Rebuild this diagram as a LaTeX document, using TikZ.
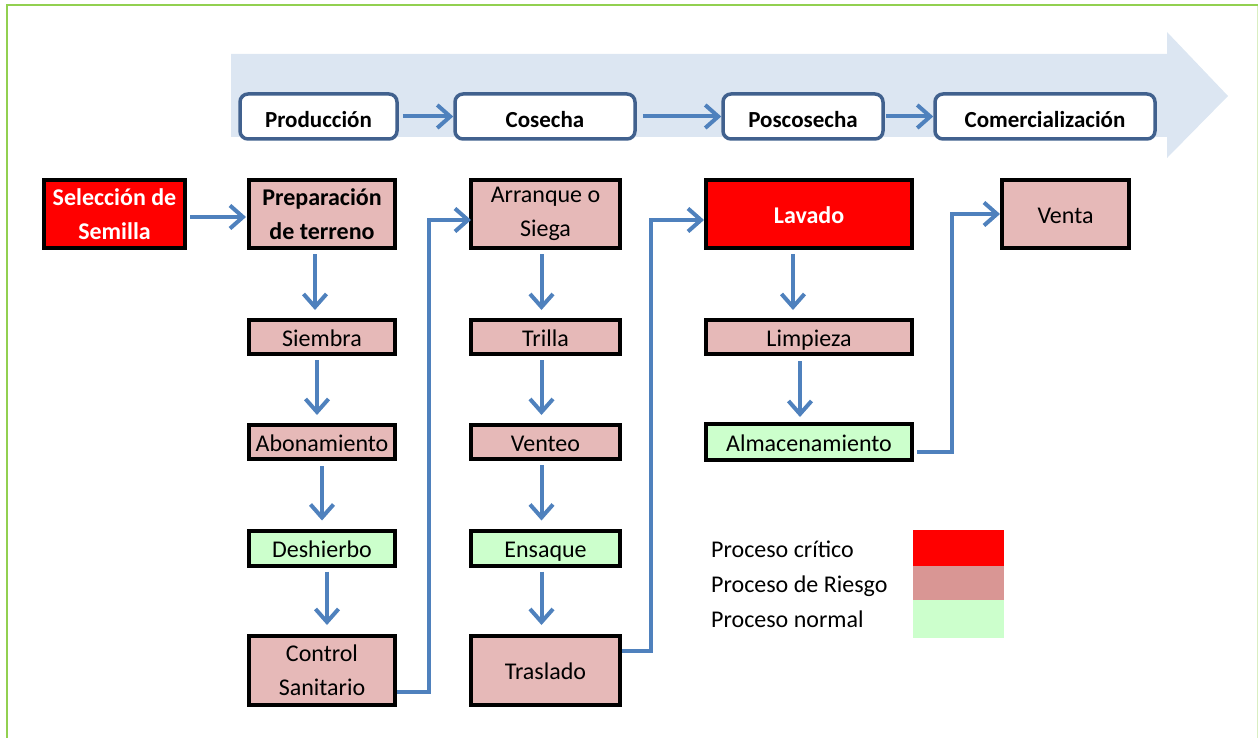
\documentclass[tikz,border=0pt]{standalone}
\usepackage{fontspec}
\setmainfont{Carlito}
\usetikzlibrary{arrows.meta,calc}
\definecolor{critc}{HTML}{FF0000}
\definecolor{riskc}{HTML}{E6B9B8}
\definecolor{riskl}{HTML}{D99694}
\definecolor{normc}{HTML}{CCFFCC}
\definecolor{bandc}{HTML}{DCE6F2}
\definecolor{phasec}{HTML}{41618E}
\definecolor{connc}{HTML}{4F81BD}
\definecolor{framec}{HTML}{92D050}
\begin{document}
\begin{tikzpicture}[x=1pt,y=-1pt,
  font=\fontsize{24}{34}\selectfont,
  procbox/.style={draw=black,line width=4pt,inner sep=0pt,align=center,text=black,fill=riskc},
  crit/.style={procbox,fill=critc,text=white,font=\fontsize{24}{34}\selectfont\bfseries},
  norm/.style={procbox,fill=normc},
  one/.style={text height=18pt,text depth=0pt},
  phasebox/.style={draw=phasec,line width=3.5pt,rounded corners=8pt,fill=white,inner sep=0pt,
    minimum height=45pt,text height=23pt,text depth=0pt,font=\fontsize{23}{30}\selectfont\bfseries},
  conn/.style={draw=connc,line width=4pt,-{Straight Barb[length=13pt,width=23pt]}},
  legtext/.style={anchor=base west,inner sep=0pt},
  c1/.style={minimum width=146pt},
  c2/.style={minimum width=149pt},
  c3/.style={minimum width=206pt},
  tall/.style={minimum height=68pt},
  short/.style={minimum height=34pt}]
\useasboundingbox (0,0) rectangle (1258,738);
\clip (0,0) rectangle (1258,738);
% frame
\draw[framec!35,line width=2pt] (1257.5,5) -- (1257.5,745);
\draw[framec,line width=2pt] (6.5,745) -- (6.5,5) -- (1257.5,5);
% band arrow
\fill[bandc] (231,54) -- (1167,54) -- (1167,32) -- (1228,96) -- (1167,158) -- (1167,137) -- (231,137) -- cycle;
% phases
\node[phasebox,minimum width=157pt] (prod) at (318.5,116.5) {Producción};
\node[phasebox,minimum width=180pt] (cos) at (545,116.5) {Cosecha};
\node[phasebox,minimum width=160pt] (pos) at (803,116.5) {Poscosecha};
\node[phasebox,minimum width=220pt] (com) at (1045,116.5) {Comercialización};
\draw[conn,shorten <=4pt] (prod) -- (cos);
\draw[conn,shorten <=6pt] (cos) -- (pos);
\draw[conn,shorten <=1pt] (pos) -- (com);
% column 0
\node[crit,tall,minimum width=141pt] (sel) at (114.5,214) {Selección de\\Semilla};
% column 1
\node[procbox,c1,tall,font=\fontsize{24}{34}\selectfont\bfseries] (prep) at (322,214) {Preparación\\de terreno};
\node[procbox,c1,short,one] (sie) at (322,337) {Siembra};
\node[procbox,c1,short,one] (abo) at (322,442) {Abonamiento};
\node[norm,c1,minimum height=35pt,one] (des) at (322,548) {Deshierbo};
\node[procbox,c1,minimum height=69pt] (con) at (322,670.5) {Control\\Sanitario};
% column 2
\node[procbox,c2,tall] (arr) at (545.5,214) {Arranque o\\Siega};
\node[procbox,c2,short,one] (tri) at (545.5,337) {Trilla};
\node[procbox,c2,short,one] (ven) at (545.5,442) {Venteo};
\node[norm,c2,minimum height=35pt,one] (ens) at (545.5,548) {Ensaque};
\node[procbox,c2,minimum height=69pt,one] (tra) at (545.5,670.5) {Traslado};
% column 3
\node[crit,c3,tall,one] (lav) at (809,214) {Lavado};
\node[procbox,c3,short,one] (lim) at (809,337) {Limpieza};
\node[norm,c3,minimum height=36pt,one] (alm) at (809,442) {Almacenamiento};
% column 4
\node[procbox,tall,minimum width=127pt,one] (vta) at (1065.5,214) {Venta};
% horizontal
\draw[conn,shorten <=3pt,shorten >=1pt] ([yshift=-3pt]sel.east) -- ([yshift=-3pt]prep.west);
% vertical col 1
\draw[conn,shorten <=4pt,shorten >=8pt] ([xshift=-7pt]prep.south) -- ([xshift=-7pt]sie.north);
\draw[conn,shorten <=4pt,shorten >=8pt] ([xshift=-5pt]sie.south) -- ([xshift=-5pt]abo.north);
\draw[conn,shorten <=5pt,shorten >=8pt] (abo.south) -- (des.north);
\draw[conn,shorten <=4pt,shorten >=9pt] ([xshift=5pt]des.south) -- ([xshift=5pt]con.north);
% vertical col 2
\draw[conn,shorten <=4pt,shorten >=8pt] ([xshift=-4pt]arr.south) -- ([xshift=-4pt]tri.north);
\draw[conn,shorten <=4pt,shorten >=8pt] ([xshift=-4pt]tri.south) -- ([xshift=-4pt]ven.north);
\draw[conn,shorten <=4pt,shorten >=8pt] ([xshift=-4pt]ven.south) -- ([xshift=-4pt]ens.north);
\draw[conn,shorten <=4pt,shorten >=9pt] ([xshift=-4pt]ens.south) -- ([xshift=-4pt]tra.north);
% vertical col 3
\draw[conn,shorten <=4pt,shorten >=8pt] ([xshift=-16pt]lav.south) -- ([xshift=-16pt]lim.north);
\draw[conn,shorten <=5pt,shorten >=5pt] ([xshift=-9pt]lim.south) -- ([xshift=-9pt]alm.north);
% elbows
\draw[conn,shorten >=-2pt] ([yshift=-21pt]con.east) -- ++(32,0) |- ([yshift=-6pt]arr.west);
\draw[conn,shorten >=0pt] ([yshift=20pt]tra.east) -- ++(29,0) |- ([yshift=-6pt]lav.west);
\draw[conn,shorten <=3pt,shorten >=0pt] ([yshift=-10pt]alm.east) -- ++(38,0) |- ([yshift=0pt]vta.west);
% legend
\fill[critc] (913,530) rectangle (1004,566);
\fill[riskl] (913,566) rectangle (1004,600);
\fill[normc] (913,600) rectangle (1004,638);
\node[legtext] (l1) at (711,557) {Proceso crítico};
\node[legtext] (l2) at (711,592) {Proceso de Riesgo};
\node[legtext] (l3) at (711,627) {Proceso normal};
\end{tikzpicture}
\end{document}
